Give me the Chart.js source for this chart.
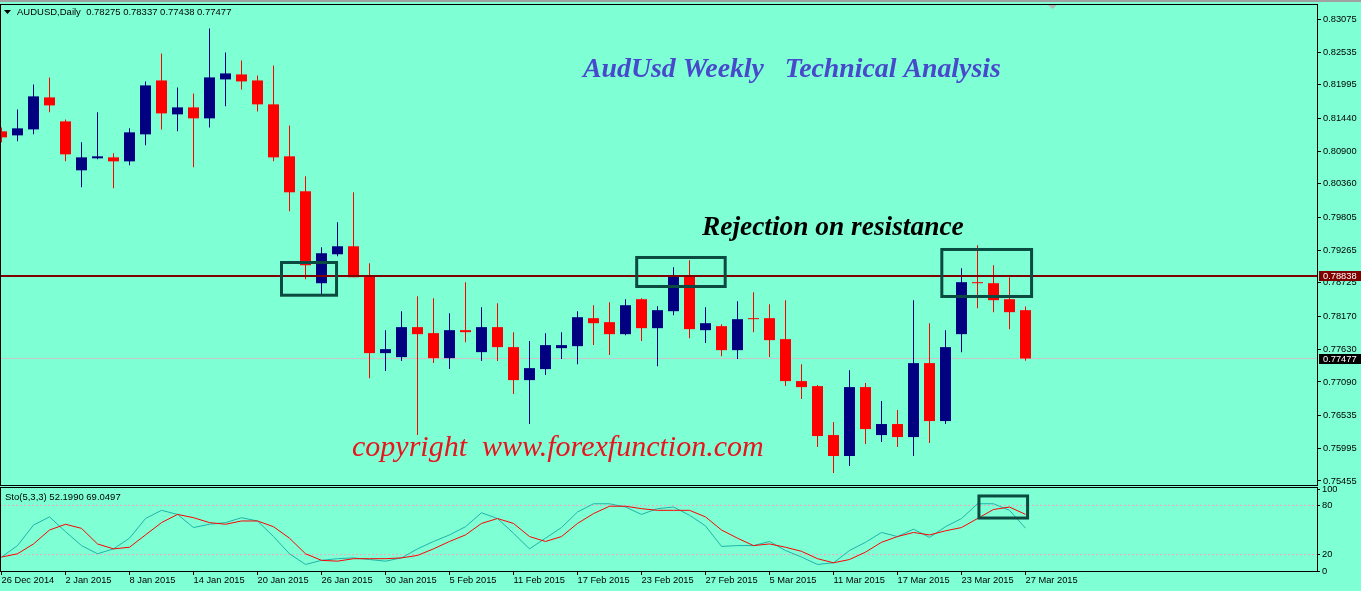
<!DOCTYPE html>
<html>
<head>
<meta charset="utf-8">
<script src="https://cdn.jsdelivr.net/npm/chart.js@4/dist/chart.umd.min.js"></script>
<style>
  html, body { margin: 0; padding: 0; background: #7fffd4; }
  #wrap { position: relative; width: 1361px; height: 591px; overflow: hidden; }
  #topbar { position: absolute; left: 0; top: 0; width: 1361px; height: 2px; background: #a0a0a0; }
  #price-chart { position: absolute; left: 0; top: 0; }
  #sto-chart { position: absolute; left: 0; top: 477px; }
</style>
</head>
<body>
<div id="wrap">
  <div id="topbar"></div>
  <canvas id="price-chart" width="1361" height="487"></canvas>
  <canvas id="sto-chart" width="1361" height="114"></canvas>
</div>
<script>
// AUDUSD daily candles, 26 Dec 2014 .. 27 Mar 2015

const open = [
  0.81227, 0.81161, 0.81260, 0.81788, 0.81392, 0.80584, 0.80782, 0.80798, 0.80732, 0.81178,
  0.82068, 0.81508, 0.81623, 0.81442, 0.82085, 0.82167, 0.82068, 0.81673, 0.80815, 0.80238,
  0.78720, 0.79198, 0.79330, 0.78852, 0.77566, 0.77500, 0.77995, 0.77896, 0.77483, 0.77945,
  0.77582, 0.77995, 0.77665, 0.77120, 0.77302, 0.77648, 0.77681, 0.78143, 0.78077, 0.77879,
  0.78456, 0.77978, 0.78258, 0.78836, 0.77945, 0.78011, 0.77615, 0.78143, 0.78143, 0.77797,
  0.77104, 0.77021, 0.76213, 0.75867, 0.77005, 0.76213, 0.76395, 0.76180, 0.77401, 0.76444,
  0.77879, 0.78737, 0.78720, 0.78456, 0.78275,
];
const high = [
  0.81293, 0.81590, 0.82002, 0.82118, 0.81425, 0.81046, 0.81541, 0.80864, 0.81277, 0.82052,
  0.82514, 0.81953, 0.81854, 0.82926, 0.82530, 0.82398, 0.82151, 0.82316, 0.81326, 0.80485,
  0.79314, 0.79726, 0.80221, 0.79050, 0.77945, 0.78258, 0.78506, 0.78473, 0.78225, 0.78737,
  0.78324, 0.78390, 0.77912, 0.77764, 0.77896, 0.77912, 0.78258, 0.78357, 0.78407, 0.78456,
  0.78473, 0.78341, 0.78984, 0.79100, 0.78324, 0.78044, 0.78423, 0.78572, 0.78374, 0.78440,
  0.77384, 0.77038, 0.76428, 0.77285, 0.77071, 0.76774, 0.76626, 0.78440, 0.78060, 0.77945,
  0.78968, 0.79347, 0.79017, 0.78819, 0.78337,
];
const low = [
  0.81046, 0.81062, 0.81178, 0.81541, 0.80732, 0.80304, 0.80765, 0.80287, 0.80666, 0.80996,
  0.81260, 0.81227, 0.80633, 0.81293, 0.81640, 0.81920, 0.81557, 0.80732, 0.79908, 0.78786,
  0.78539, 0.79165, 0.78819, 0.77153, 0.77269, 0.77434, 0.76213, 0.77401, 0.77302, 0.77747,
  0.77434, 0.77434, 0.76889, 0.76395, 0.77203, 0.77467, 0.77384, 0.77698, 0.77533, 0.77863,
  0.77764, 0.77351, 0.78192, 0.77813, 0.77731, 0.77516, 0.77467, 0.77912, 0.77500, 0.77021,
  0.76807, 0.76015, 0.75586, 0.75702, 0.76065, 0.76098, 0.76015, 0.75867, 0.76081, 0.76395,
  0.77582, 0.78308, 0.78242, 0.77962, 0.77438,
];
const close = [
  0.81128, 0.81277, 0.81805, 0.81656, 0.80848, 0.80798, 0.80815, 0.80732, 0.81211, 0.81986,
  0.81524, 0.81623, 0.81442, 0.82118, 0.82184, 0.82052, 0.81673, 0.80798, 0.80221, 0.79017,
  0.79215, 0.79330, 0.78819, 0.77566, 0.77632, 0.77995, 0.77879, 0.77483, 0.77945, 0.77912,
  0.77995, 0.77665, 0.77120, 0.77318, 0.77698, 0.77698, 0.78159, 0.78060, 0.77879, 0.78357,
  0.77978, 0.78275, 0.78852, 0.77962, 0.78060, 0.77615, 0.78126, 0.78126, 0.77780, 0.77104,
  0.77005, 0.76197, 0.75867, 0.77005, 0.76312, 0.76395, 0.76180, 0.77401, 0.76444, 0.77665,
  0.78737, 0.78720, 0.78440, 0.78242, 0.77477,
];

// Stochastic(5,3,3): main line and signal line
const stochK = [
  17, 31, 56, 66, 48, 31, 21, 27, 40, 64,
  74, 69, 53, 57, 59, 65, 61, 42, 21, 8,
  13, 15, 16, 14, 12, 16, 27, 36, 44, 54,
  71, 64, 46, 27, 40, 53, 72, 82, 82, 78,
  69, 76, 78, 68, 55, 30, 31, 31, 36, 25,
  17, 8, 10, 25, 35, 47, 42, 51, 41, 54,
  64, 82, 82, 74, 52.199,
];
const stochD = [
  17, 21, 33, 50, 57, 52, 33, 27, 29, 44,
  59, 69, 65, 59, 57, 61, 61, 54, 40, 21,
  13, 12, 15, 15, 15, 16, 19, 27, 36, 44,
  58, 64, 58, 42, 36, 42, 58, 70, 79, 79,
  76, 74, 74, 74, 66, 50, 40, 31, 33, 29,
  24, 15, 10, 14, 23, 35, 42, 47, 44, 49,
  53, 64, 75, 78, 69.0497,
];

// one date label every 4 bars
const dateTicks = [
  "26 Dec 2014", "2 Jan 2015", "8 Jan 2015", "14 Jan 2015", "20 Jan 2015",
  "26 Jan 2015", "30 Jan 2015", "5 Feb 2015", "11 Feb 2015", "17 Feb 2015",
  "23 Feb 2015", "27 Feb 2015", "5 Mar 2015", "11 Mar 2015", "17 Mar 2015",
  "23 Mar 2015", "27 Mar 2015",
];
const tickEvery = 4;
const priceTicks = [
  0.83075, 0.82535, 0.81995, 0.81440, 0.80900, 0.80360, 0.79805, 0.79265,
  0.78725, 0.78170, 0.77630, 0.77090, 0.76535, 0.75995, 0.75455,
];
const stoTicks = [0, 20, 80, 100];
const resistance = 0.78838;

const BULL = "#000080";
const BEAR = "#ff0000";
const X_MIN = -0.09375;
const X_MAX = 82.21875;
const AXIS_FONT = { family: "Liberation Sans", size: 9.3 };

const candleColors = open.map((o, i) => (close[i] >= o ? BULL : BEAR));
const bodies = open.map((o, i) => ({ x: i, y: [o, close[i]] }));
const wicks = open.map((o, i) => ({ x: i, y: [low[i], high[i]] }));
const last = close.length - 1;

// marked zones (bar index / price)
const priceZones = [
  { x0: 17.5, x1: 20.94, y0: 0.79062, y1: 0.78522 },
  { x0: 39.7, x1: 45.23, y0: 0.79145, y1: 0.78666 },
  { x0: 58.77, x1: 64.38, y0: 0.79277, y1: 0.78501 },
];
const stoZone = { x0: 61.09, x1: 64.13, y0: 91.5, y1: 64.6 };

function strokeZone(ctx, x, y, z) {
  const l = x.getPixelForValue(z.x0);
  const r = x.getPixelForValue(z.x1);
  const t = y.getPixelForValue(z.y0);
  const b = y.getPixelForValue(z.y1);
  ctx.strokeStyle = "#0a4a40";
  ctx.lineWidth = 3;
  ctx.strokeRect(l, t, r - l, b - t);
}

function priceBadge(ctx, y, value, bg) {
  const py = Math.round(y.getPixelForValue(value));
  ctx.fillStyle = bg;
  ctx.fillRect(1319, py - 5, 42, 10);
  ctx.fillStyle = "#ffffff";
  ctx.font = '9.3px "Liberation Sans"';
  ctx.textBaseline = "middle";
  ctx.textAlign = "left";
  ctx.fillText(value.toFixed(5), 1323, py + 0.5);
}

const priceDecor = {
  id: "priceDecor",
  afterDatasetsDraw(chart) {
    const { ctx, scales: { x, y } } = chart;
    ctx.save();
    priceZones.forEach((z) => strokeZone(ctx, x, y, z));

    ctx.textBaseline = "alphabetic";
    ctx.textAlign = "left";
    ctx.font = 'italic bold 27.8px "Liberation Serif"';
    ctx.fillStyle = "#4848cc";
    ctx.fillText("AudUsd Weekly   Technical Analysis", 583, 77);
    ctx.font = 'italic bold 27.4px "Liberation Serif"';
    ctx.fillStyle = "#000000";
    ctx.fillText("Rejection on resistance", 702, 235);

    ctx.font = 'italic 30px "Liberation Serif"';
    ctx.fillStyle = "#e8141e";
    ctx.fillText("copyright  www.forexfunction.com", 352, 456);
    ctx.restore();
  },
  afterDraw(chart) {
    const { ctx, scales: { y } } = chart;
    ctx.save();
    ctx.strokeStyle = "#000000";
    ctx.lineWidth = 1;
    ctx.strokeRect(0.5, 4.5, 1317, 481);

    // header
    ctx.fillStyle = "#000000";
    ctx.beginPath();
    ctx.moveTo(4, 10);
    ctx.lineTo(11, 10);
    ctx.lineTo(7.5, 14);
    ctx.closePath();
    ctx.fill();
    ctx.font = '9.5px "Liberation Sans"';
    ctx.textBaseline = "middle";
    ctx.fillText(
      "AUDUSD,Daily  " + [open[last], high[last], low[last], close[last]].map((v) => v.toFixed(5)).join(" "),
      17, 12.5
    );

    // shift marker
    ctx.fillStyle = "#b4b4b4";
    ctx.beginPath();
    ctx.moveTo(1048, 5);
    ctx.lineTo(1057, 5);
    ctx.lineTo(1052.5, 9);
    ctx.closePath();
    ctx.fill();

    priceBadge(ctx, y, resistance, "#800000");
    priceBadge(ctx, y, close[last], "#000000");
    ctx.restore();
  },
};

const stoDecor = {
  id: "stoDecor",
  afterDraw(chart) {
    const { ctx, scales: { x, y } } = chart;
    ctx.save();
    strokeZone(ctx, x, y, stoZone);
    ctx.strokeStyle = "#000000";
    ctx.lineWidth = 1;
    ctx.strokeRect(0.5, 10.5, 1317, 84);
    ctx.fillStyle = "#000000";
    ctx.font = '9.5px "Liberation Sans"';
    ctx.textBaseline = "middle";
    ctx.textAlign = "left";
    ctx.fillText(
      "Sto(5,3,3) " + stochK[last].toFixed(4) + " " + stochD[last].toFixed(4),
      5, 20
    );
    ctx.restore();
  },
};

const priceCtx = document.getElementById("price-chart").getContext("2d");
const priceChart = new Chart(priceCtx, {
  type: "bar",
  data: {
    datasets: [
      {
        type: "line",
        data: [{ x: X_MIN, y: close[last] }, { x: X_MAX, y: close[last] }],
        borderColor: "#c8c8c8",
        borderWidth: 1,
        pointRadius: 0,
        order: 5,
      },
      {
        data: wicks,
        backgroundColor: candleColors,
        barThickness: 1,
        grouped: false,
        inflateAmount: 0,
        order: 4,
      },
      {
        data: bodies,
        backgroundColor: candleColors,
        barThickness: 11,
        grouped: false,
        inflateAmount: 0,
        order: 3,
      },
      {
        type: "line",
        data: [{ x: X_MIN, y: resistance }, { x: X_MAX, y: resistance }],
        borderColor: "#800000",
        borderWidth: 2,
        pointRadius: 0,
        order: 1,
      },
    ],
  },
  options: {
    responsive: false,
    animation: false,
    devicePixelRatio: 1,
    layout: { padding: { top: 4, bottom: 1, left: 0, right: 0 } },
    plugins: {
      legend: { display: false },
      tooltip: { enabled: false },
    },
    scales: {
      x: {
        type: "linear",
        display: false,
        min: X_MIN,
        max: X_MAX,
        offset: false,
      },
      y: {
        position: "right",
        min: 0.75372,
        max: 0.8333,
        afterBuildTicks: (s) => {
          s.ticks = priceTicks.map((v) => ({ value: v }));
        },
        afterFit: (s) => {
          s.width = 44;
          s.paddingTop = 0;
          s.paddingBottom = 0;
        },
        border: { display: false },
        grid: {
          drawOnChartArea: false,
          drawTicks: true,
          tickLength: 4,
          color: "#000000",
        },
        ticks: {
          autoSkip: false,
          padding: 2,
          color: "#000000",
          font: AXIS_FONT,
          callback: (v) => v.toFixed(5),
        },
      },
    },
  },
  plugins: [priceDecor],
});

const stoCtx = document.getElementById("sto-chart").getContext("2d");
const stoChart = new Chart(stoCtx, {
  type: "line",
  data: {
    datasets: [
      {
        data: [{ x: X_MIN, y: 80 }, { x: X_MAX, y: 80 }],
        borderColor: "#f0a8bc",
        borderWidth: 1,
        borderDash: [2, 2],
        pointRadius: 0,
        order: 4,
      },
      {
        data: [{ x: X_MIN, y: 20 }, { x: X_MAX, y: 20 }],
        borderColor: "#f0a8bc",
        borderWidth: 1,
        borderDash: [2, 2],
        pointRadius: 0,
        order: 3,
      },
      {
        label: "Main",
        data: stochK.map((v, i) => ({ x: i, y: v })),
        borderColor: "#20b2aa",
        borderWidth: 1,
        pointRadius: 0,
        tension: 0,
        order: 2,
      },
      {
        label: "Signal",
        data: stochD.map((v, i) => ({ x: i, y: v })),
        borderColor: "#ff0000",
        borderWidth: 1,
        pointRadius: 0,
        tension: 0,
        order: 1,
      },
    ],
  },
  options: {
    responsive: false,
    animation: false,
    devicePixelRatio: 1,
    layout: { padding: { top: 12, bottom: 0, left: 0, right: 0 } },
    plugins: {
      legend: { display: false },
      tooltip: { enabled: false },
    },
    scales: {
      x: {
        type: "linear",
        min: X_MIN,
        max: X_MAX,
        offset: false,
        afterBuildTicks: (s) => {
          s.ticks = dateTicks.map((_, k) => ({ value: k * tickEvery }));
        },
        afterFit: (s) => {
          s.height = 20;
          s.paddingLeft = 0;
          s.paddingRight = 0;
        },
        border: { display: false },
        grid: {
          drawOnChartArea: false,
          tickLength: 4,
          color: "#000000",
        },
        ticks: {
          autoSkip: false,
          maxRotation: 0,
          minRotation: 0,
          align: "start",
          padding: 0,
          color: "#000000",
          font: AXIS_FONT,
          callback: (v) => dateTicks[Math.round(v / tickEvery)],
        },
      },
      y: {
        position: "right",
        min: 0,
        max: 100,
        afterBuildTicks: (s) => {
          s.ticks = stoTicks.map((v) => ({ value: v }));
        },
        afterFit: (s) => {
          s.width = 44;
          s.paddingTop = 0;
          s.paddingBottom = 0;
        },
        border: { display: false },
        grid: {
          drawOnChartArea: false,
          tickLength: 3,
          color: "#000000",
        },
        ticks: {
          autoSkip: false,
          padding: 2,
          color: "#000000",
          font: AXIS_FONT,
        },
      },
    },
  },
  plugins: [stoDecor],
});
</script>
</body>
</html>
